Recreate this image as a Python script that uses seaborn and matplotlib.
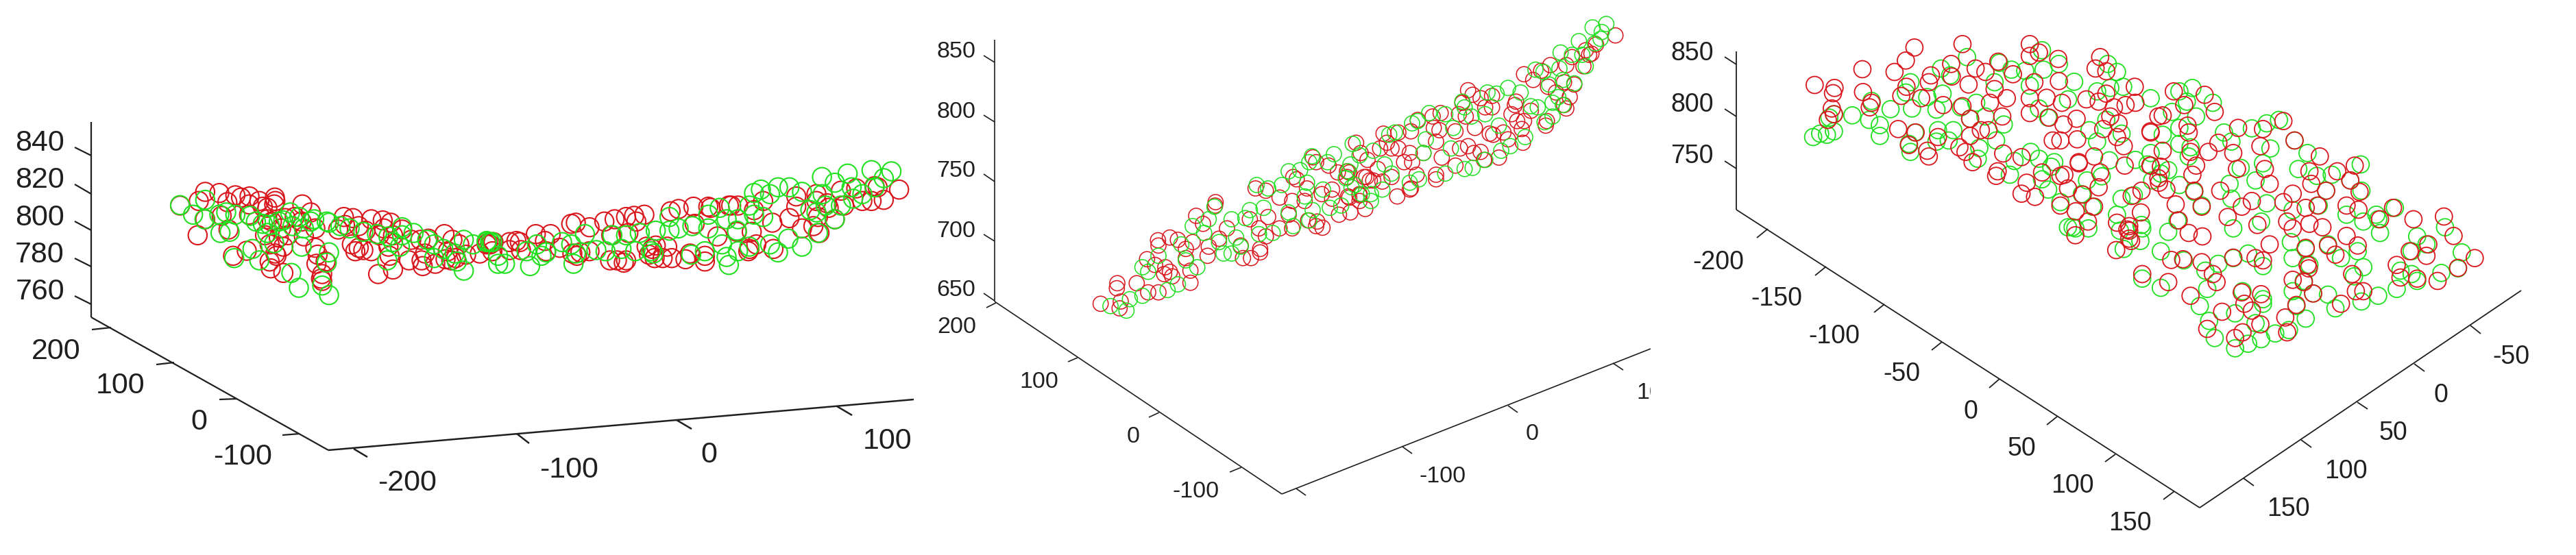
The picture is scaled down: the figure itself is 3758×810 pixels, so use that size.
import numpy as np
import pandas as pd
import seaborn as sns
from matplotlib import pyplot as plt

p1_a_red = [(68,120),(178,60),(150,100),(240,65),(275,105),(310,75),(335,85),(372,80),(370,115),(415,100),(483,85),(485,100),(480,115),(450,130),(430,125),(603,115),(640,150),(178,180),(250,165),(145,250),(280,225),(370,160),(450,180),(470,190),(530,175),(570,170),(600,190),(660,220),(610,255),(440,250),(510,220),(540,250),(460,290),(500,260),(520,300),(360,318),(300,340),(485,330),(490,340),(460,365),(465,395),(520,415),(660,305),(670,335),(665,375),(705,365),(690,420),(685,440),(690,450),(785,170),(825,175),(790,205),(760,225),(905,180),(955,185),(990,195),(1040,225),(820,290),(850,305),(870,315),(835,320),(905,320),(980,300),(985,340),(935,420),(1000,400),(1070,360),(1125,360),(1130,385),(1185,375),(1120,270),(1155,265),(1225,245),(1140,330),(1230,355),(1255,360),(1320,335),(1290,290),(1260,270),(1410,290),(1440,280),(1380,330),(1435,320),(1000,250),(940,250),(880,230),(850,210),(960,220),(1080,270),(1240,320),(1275,350)]
p1_a_green = [(68,118),(125,160),(178,95),(175,180),(240,160),(245,240),(270,150),(310,160),(285,235),(375,165),(400,190),(430,200),(460,205),(500,190),(550,150),(590,170),(560,210),(610,220),(655,180),(710,190),(720,195),(385,310),(305,350),(415,360),(480,285),(600,300),(720,325),(710,370),(555,415),(588,480),(690,470),(720,512),(770,210),(810,220),(870,235),(930,245),(980,255),(1040,250),(1090,240),(1150,270),(1180,290),(1220,310),(1310,270),(1350,290),(1410,275),(1435,280),(1310,405),(1180,350),(1030,300),(975,360),(1270,330),(1460,340),(1040,215),(1000,280),(1280,365),(450,240),(520,185),(640,190)]
p1_b_red = [(35,405),(45,410),(130,400),(160,395),(175,400),(130,435),(180,435),(245,365),(310,365),(285,395),(290,440),(350,425),(400,320),(420,315),(480,335),(405,450),(425,460),(440,445),(545,310),(590,300),(640,290),(675,285),(720,280),(575,370),(650,360),(685,310),(600,480),(570,480),(640,480),(630,490),(480,440),(740,455),(765,470),(800,470),(840,470),(900,475),(985,485),(985,460),(920,450),(835,265),(870,255),(935,245),(1000,245),(1010,250),(1040,375),(1100,240),(1130,240),(1125,355),(1190,355),(1180,430),(1175,440),(1210,410),(1285,430),(1280,315),(1385,200),(1385,245),(1355,295),(1410,340),(1200,260),(1240,220),(1090,240),(730,420),(770,415),(820,420),(755,430),(940,320)]
p1_b_green = [(30,400),(80,495),(110,495),(45,400),(205,440),(220,505),(270,460),(290,445),(250,410),(360,400),(410,495),(420,450),(400,410),(460,365),(510,435),(580,370),(640,370),(700,360),(620,430),(770,350),(830,350),(750,440),(870,340),(930,330),(1000,340),(985,440),(925,455),(760,450),(1060,410),(1080,465),(1090,500),(1130,440),(1125,350),(1180,420),(1200,185),(1230,170),(1270,190),(1305,160),(1355,160),(1410,180),(1130,300),(1080,300),(1180,240),(1240,290),(1270,410),(1305,445),(1350,385),(1410,420),(1200,280),(1050,250),(1000,280),(680,440),(550,440),(830,290)]
p1_c_red = [(1100,400),(1100,430),(1135,440),(1180,385),(1230,375),(1290,365),(1300,370),(1370,380),(1280,430),(1320,425),(1160,510),(1110,570),(1105,500),(1140,460),(1250,430),(1190,450),(1090,540)]
p1_c_green = [(1118,325),(1160,350),(1202,310),(1280,295),(1345,300),(1320,330),(1290,370),(1250,400),(1215,370),(1120,400),(1105,570),(1160,510),(1180,450),(1130,450),(1100,480),(1220,420),(1080,470)]

p2_a_red = [(47,640),(120,550),(118,572),(130,660),(135,630),(205,550),(255,590),(300,590),(250,445),(285,470),(300,385),(298,362),(350,350),(385,360),(330,480),(350,500),(360,520),(325,510),(440,548),(440,495),(420,400),(450,370),(420,440),(515,430),(520,390),(465,255),(495,290),(550,195),(548,210),(565,355),(600,310),(660,385),(670,440),(705,440),(745,415),(745,400),(700,270),(740,310),(770,345),(780,260),(725,135),(770,145),(830,175),(890,85),(905,95),(950,135),(940,190),(885,190),(830,310),(870,250),(885,310),(955,275),(995,280),(1018,307),(990,300),(1060,140),(1090,250),(1140,240),(1060,180),(1135,175),(1205,225),(1180,165),(1015,160),(990,20),(1045,35),(1085,65),(1125,85),(1210,85),(1240,100),(1180,190),(976,-1)]
p2_a_green = [(160,670),(90,650),(175,620),(230,605),(230,480),(255,500),(300,430),(340,580),(385,555),(470,480),(420,450),(400,380),(450,300),(500,330),(520,270),(545,215),(585,420),(620,420),(565,370),(620,270),(700,230),(680,265),(760,220),(800,330),(660,390),(730,120),(780,135),(840,120),(870,60),(920,55),(950,110),(960,20),(940,170),(870,240),(890,300),(975,230),(960,275),(1020,140),(1050,220),(1100,210),(1160,120),(1130,60),(1120,90),(1190,160),(1230,190),(1040,20),(740,335),(640,350),(972,-6),(1068,-15)]
p2_b_red = [(1190,95),(1105,135),(1085,175),(1075,180),(1060,160),(1050,230),(1000,190),(905,225),(975,225),(865,250),(830,290),(790,265),(895,320),(930,345),(965,300),(1010,310),(990,365),(965,400),(975,415),(885,490),(890,470),(755,385),(750,400),(735,440),(760,470),(790,470),(820,425),(780,505),(785,565),(720,550),(700,520),(655,530),(640,525),(680,630),(615,640),(600,605),(575,500),(545,335),(565,355),(600,370),(650,360),(650,410),(620,410),(535,450),(505,440),(520,390),(425,435),(325,465),(390,450),(420,510),(395,500),(295,515),(240,520),(175,525),(190,565),(240,590),(210,590),(160,590),(55,565),(75,610),(105,640),(290,610),(300,650),(265,650),(320,705),(350,610),(405,560),(430,630),(490,665),(510,590),(545,580),(570,610),(405,705),(405,725),(90,715),(115,730),(150,680),(170,735),(295,765),(290,770),(210,715),(15,690),(25,695),(70,790),(20,800),(235,800),(490,515)]
p2_b_green = [(1150,45),(1090,60),(1130,80),(1125,110),(1100,130),(1030,120),(950,170),(1000,180),(1045,180),(1060,230),(840,245),(875,255),(945,240),(900,310),(960,290),(1010,305),(940,365),(915,390),(960,400),(915,450),(880,475),(820,405),(850,410),(775,345),(720,325),(670,350),(630,345),(520,385),(620,440),(560,450),(530,410),(375,435),(325,470),(300,480),(445,440),(480,500),(360,550),(350,610),(225,520),(200,530),(130,600),(40,570),(70,620),(30,660),(35,760),(445,700),(530,680),(565,675),(620,640),(470,590),(680,490),(795,540),(730,580),(690,600),(180,660),(330,725),(210,700),(290,740),(170,770),(120,790)]

p3_a_red = [(442,282),(507,295),(502,318),(498,385),(485,435),(505,410),(598,213),(600,313),(622,380),(628,360),(703,225),(740,175),(768,118),(715,475),(772,490),(750,545),(810,570),(815,595),(845,510),(725,330),(742,290),(815,270),(822,240),(790,340),(862,370),(888,190),(925,103),(890,245),(925,375),(945,280),(968,210),(1000,225),(1042,180),(1145,103),(1145,155),(1175,140),(1238,168),(1240,265),(1160,270),(1090,235),(1030,300),(1015,360),(1070,340),(1145,340),(1200,338),(950,430),(985,480),(1010,480),(1055,420),(950,505),(915,555),(935,575),(958,620),(1058,582),(1118,598),(1040,660),(1035,680),(1185,665),(1245,680),(1258,675),(1305,625),(1305,620),(1355,595),(1375,665),(1455,635),(1370,730),(1270,735),(1318,762),(1135,710),(1118,758),(1162,772),(1245,810),(1295,835),(1355,815),(1335,880),(1220,525),(1245,525),(1300,520),(1255,455),(1298,430),(1208,425),(1145,405),(1250,360),(1330,345),(1370,355),(1360,210),(1375,160),(1395,222),(1395,320),(1420,380),(1458,370),(1490,360),(1488,290),(1408,420),(1385,475),(1430,510),(1435,450),(1452,550),(1540,490),(1540,635),(1510,745),(1478,768),(1508,840),(1430,885),(1470,900),(1565,420),(1565,690)]
p3_a_green = [(437,510),(460,495),(482,500),(505,485),(505,410),(490,425),(565,415),(628,352),(620,435),(655,458),(655,505),(690,388),(760,385),(755,270),(740,315),(755,575),(750,540),(770,490),(840,390),(810,335),(860,320),(855,210),(885,240),(940,160),(895,480),(845,480),(880,525),(840,530),(920,380),(950,430),(970,360),(1000,420),(1030,270),(1045,185),(1060,455),(1035,525),(980,558),(975,605),(1085,215),(1130,220),(1185,130),(1240,190),(1190,215),(1145,285),(1290,268),(1205,425),(1270,345),(1175,385),(1340,480),(1365,530),(1405,612),(1445,495),(1395,435),(1365,310),(1408,295),(1430,225),(1400,190),(1450,290),(1540,340),(1148,575),(1095,615),(1175,605),(1225,620),(1215,640),(1080,675),(1205,740),(1185,695),(1332,700),(1380,682),(1245,795),(1445,780),(1485,765),(1545,700),(1540,580),(1530,630),(1315,760),(1350,815),(1430,850),(1285,905),(1510,895),(1490,610)]
p3_b_red = [(685,100),(768,115),(713,160),(795,190),(655,205),(622,275),(722,250),(725,280),(858,260),(925,265),(980,230),(1010,315),(1078,385),(918,340),(845,370),(778,365),(805,325),(730,365),(655,360),(622,425),(650,430),(745,425),(735,465),(645,500),(665,530),(740,535),(855,440),(930,440),(943,505),(810,535),(1050,450),(1055,505),(1125,450),(1172,425),(1160,490),(1095,535),(690,595),(760,605),(895,580),(868,605),(1005,548),(980,585),(1040,610),(1072,600),(1150,600),(1185,540),(1182,618),(1240,660),(1275,610),(1330,660),(1412,648),(1438,733),(830,650),(910,685),(698,665),(725,720),(762,735),(990,670),(1005,700),(1050,680),(1085,695),(943,770),(1150,733),(1100,775),(1120,815),(1180,775),(1370,770),(1320,800),(1365,820),(1285,860),(1495,830),(1450,873),(1395,930),(1340,920),(1295,915),(710,835),(678,838),(760,848),(845,828),(905,830),(925,840),(1040,785),(1048,875),(1045,860),(1165,900),(790,900),(800,935),(600,900),(670,935),(730,995),(868,980),(920,988),(875,1030),(895,1060),(1005,925),(1035,935),(1060,985),(1135,1030),(1175,975),(1195,975),(1015,1035),(985,1090),(815,1065),(775,1140),(850,1180),(870,1155),(918,1120),(990,1155),(530,795),(570,755),(565,745),(565,710),(560,705),(420,730)]
p3_b_green = [(700,100),(735,85),(720,145),(790,150),(745,210),(680,190),(700,260),(655,290),(700,330),(730,345),(725,385),(820,280),(840,320),(895,262),(935,240),(968,225),(1010,315),(1045,370),(945,350),(925,415),(905,490),(1020,440),(1070,470),(1110,465),(1188,420),(1160,490),(1095,535),(1190,535),(865,435),(835,505),(840,570),(760,600),(740,540),(700,510),(650,460),(670,445),(935,590),(920,670),(845,700),(1005,620),(1075,600),(1150,640),(1195,670),(1235,660),(1240,720),(1280,610),(1230,640),(1340,735),(1415,695),(1365,770),(1325,800),(1460,805),(1405,895),(1450,875),(1325,900),(1340,930),(1295,885),(1285,965),(1235,995),(1190,1020),(1120,1050),(1100,990),(1060,985),(1000,760),(1005,830),(1040,790),(1050,860),(1100,770),(1135,830),(1180,800),(1195,870),(1170,910),(885,810),(925,865),(805,855),(770,885),(775,965),(650,800),(712,840),(845,830),(670,715),(695,665),(600,920),(650,960),(755,1040),(850,1072),(780,1105),(795,1180),(925,1030),(905,1115),(850,1225),(885,1205),(920,1185),(958,1160),(995,1145),(1040,1095),(1005,975),(1015,1040),(1035,930),(540,710),(600,700),(595,755),(550,790),(420,700),(400,695),(455,700),(870,975),(925,1010)]

z_ticks_1 = ["840", "820", "800", "780", "760"]
y_ticks_1 = ["200", "100", "0", "-100"]
x_ticks_1 = ["-200", "-100", "0", "100"]
z_ticks_2 = ["850", "800", "750", "700", "650"]
y_ticks_2 = ["200", "100", "0", "-100"]
x_ticks_2 = ["-100", "0", "100"]
z_ticks_3 = ["850", "800", "750"]
y_ticks_3 = ["-200", "-150", "-100", "-50", "0", "50", "100", "150"]
x_ticks_3 = ["150", "100", "50", "0", "-50"]

RED = "#d9161c"
GREEN = "#20e020"
INK = "#1f1f1f"
W, H = 3758, 810


def crop_points(points, left, top, xscale, yscale=3):
    pts = np.array(points, dtype=float)
    return pd.DataFrame({"x": left + pts[:, 0] / xscale, "y": top + pts[:, 1] / yscale})


def rings(ax, df, colour, size, lw):
    sns.scatterplot(data=df, x="x", y="y", ax=ax, s=size, marker="o", facecolors="none",
                    edgecolors=colour, linewidth=lw, legend=False, zorder=3)


def make_panel(x0, x1):
    ax = fig.add_axes([x0 / W, 0, (x1 - x0) / W, 1])
    ax.set_xlim(x0, x1)
    ax.set_ylim(H, 0)
    ax.axis("off")
    return ax


def draw_axis(ax, line, ticks, labels, label_pos, fontsize, lw, ha="center"):
    ax.plot(*zip(*line), color=INK, lw=lw, solid_capstyle="butt")
    for start, end in ticks:
        ax.plot(*zip(start, end), color=INK, lw=lw, solid_capstyle="butt")
    for text, (x, y) in zip(labels, label_pos):
        ax.text(x, y, text, fontsize=fontsize, color=INK, ha=ha, va="center", clip_on=True)


sns.set_theme(style="white")
plt.rcParams["font.family"] = ["Liberation Sans", "DejaVu Sans"]
fig = plt.figure(figsize=(W / 100, H / 100), dpi=100, facecolor="white")

# left panel
ax1 = make_panel(0, 1340)
p1_red = pd.concat([crop_points(p1_a_red, 240, 260, 3), crop_points(p1_b_red, 700, 220, 3), crop_points(p1_c_red, 700, 150, 2.24)])
p1_green = pd.concat([crop_points(p1_a_green, 240, 260, 3), crop_points(p1_b_green, 700, 220, 3), crop_points(p1_c_green, 700, 150, 2.24)])
rings(ax1, p1_red, RED, 390, 1.5)
rings(ax1, p1_green, GREEN, 390, 1.5)
draw_axis(ax1, [(133, 178), (133, 463)],
          [((133, 227), (109, 215)), ((133, 283), (109, 269)), ((133, 336), (109, 323)),
           ((133, 389), (109, 377)), ((133, 444), (109, 432))],
          z_ticks_1, [(94, 209), (94, 263), (94, 318), (94, 372), (94, 426)], 31, 1.6, ha="right")
draw_axis(ax1, [(133, 463), (479, 657)],
          [((162, 478), (134, 481)), ((254, 529), (228, 532)), ((346, 582), (320, 583)), ((437, 633), (412, 635))],
          y_ticks_1, [(82, 513), (176, 563), (290, 616), (354, 667)], 31, 1.6)
draw_axis(ax1, [(479, 657), (1333, 583)],
          [((516, 655), (536, 667)), ((754, 633), (772, 647)), ((987, 613), (1009, 626)), ((1221, 593), (1243, 606))],
          x_ticks_1, [(594, 705), (830, 686), (1034, 664), (1295, 644)], 31, 1.8)

# middle panel
ax2 = make_panel(1340, 2408)
p2_red = pd.concat([crop_points(p2_a_red, 1590, 230, 3), crop_points(p2_b_red, 1960, 20, 3)])
p2_green = pd.concat([crop_points(p2_a_green, 1590, 230, 3), crop_points(p2_b_green, 1960, 20, 3)])
rings(ax2, p2_red, RED, 255, 1.1)
rings(ax2, p2_green, GREEN, 255, 1.1)
draw_axis(ax2, [(1451, 58), (1451, 440)],
          [((1451, 91), (1435, 81)), ((1451, 178), (1435, 168)), ((1451, 265), (1435, 254)),
           ((1451, 352), (1435, 342)), ((1451, 439), (1435, 428))],
          z_ticks_2, [(1423, 76), (1423, 163), (1423, 250), (1423, 337), (1423, 423)], 24.5, 1.2, ha="right")
draw_axis(ax2, [(1451, 440), (1870, 721)],
          [((1453, 442), (1439, 449)), ((1572, 522), (1558, 528)), ((1691, 602), (1676, 609)), ((1811, 682), (1794, 689))],
          y_ticks_2, [(1396, 478), (1516, 558), (1653, 638), (1745, 718)], 24.5, 1.2)
draw_axis(ax2, [(1870, 721), (2408, 509)],
          [((1891, 713), (1905, 723)), ((2046, 652), (2060, 662)), ((2200, 592), (2214, 602)), ((2353, 530), (2368, 540))],
          x_ticks_2, [(2105, 695), (2235, 633), (2416, 573)], 24.5, 1.2)

# right panel
ax3 = make_panel(2408, W)
p3_red = pd.concat([crop_points(p3_a_red, 2450, 30, 2.24), crop_points(p3_b_red, 2800, 100, 1.845)])
p3_green = pd.concat([crop_points(p3_a_green, 2450, 30, 2.24), crop_points(p3_b_green, 2800, 100, 1.845)])
rings(ax3, p3_green, GREEN, 320, 1.3)
rings(ax3, p3_red, RED, 320, 1.3)
draw_axis(ax3, [(2533, 75), (2533, 306)],
          [((2533, 94), (2516, 83)), ((2533, 170), (2516, 159)), ((2533, 246), (2516, 235))],
          z_ticks_3, [(2500, 78), (2500, 153), (2500, 228)], 27, 1.3, ha="right")
draw_axis(ax3, [(2533, 306), (3209, 741)],
          [((2579, 334), (2563, 347)), ((2664, 389), (2648, 402)), ((2749, 444), (2734, 456)), ((2833, 499), (2818, 511)),
           ((2917, 553), (2902, 566)), ((3001, 608), (2986, 620)), ((3086, 663), (3071, 674)), ((3172, 717), (3156, 729))],
          y_ticks_3, [(2507, 383), (2592, 436), (2676, 491), (2774, 546), (2875, 601), (2949, 655), (3023, 709), (3107, 764)], 27, 1.3)
draw_axis(ax3, [(3209, 741), (3678, 424)],
          [((3273, 698), (3288, 709)), ((3357, 642), (3372, 653)), ((3439, 587), (3454, 597)), ((3522, 531), (3537, 542)), ((3604, 475), (3619, 487))],
          x_ticks_3, [(3338, 743), (3422, 688), (3491, 632), (3561, 577), (3663, 521)], 27, 1.3)

fig.savefig("out.png", dpi=100)
